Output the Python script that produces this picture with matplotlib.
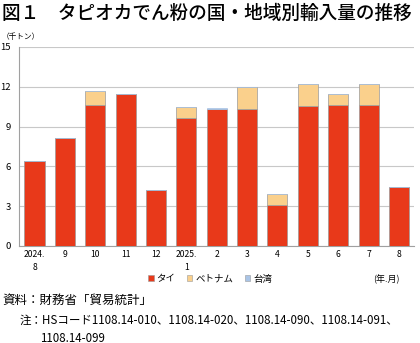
import matplotlib
matplotlib.use("Agg")
import matplotlib.pyplot as plt
from matplotlib.patches import Patch
import numpy as np

plt.rcParams['font.family'] = ['Noto Sans CJK JP', 'DejaVu Sans']

months = ["2024.\n8", "9", "10", "11", "12", "2025.\n1", "2", "3", "4", "5", "6", "7", "8"]
thai = [6.38, 8.12, 10.61, 11.42, 4.18, 9.63, 10.36, 10.31, 3.05, 10.56, 10.61, 10.59, 4.41]
vietnam = [0.0, 0.0, 1.06, 0.0, 0.0, 0.81, 0.0, 1.66, 0.83, 1.62, 0.84, 1.64, 0.0]
taiwan = [0.03, 0.03, 0.0, 0.03, 0.03, 0.0, 0.03, 0.0, 0.0, 0.0, 0.0, 0.0, 0.03]
yticks = [0, 3, 6, 9, 12, 15]

c_thai = "#E8391A"
c_viet = "#FAD08C"
c_tw = "#A9C4E6"
edge = "#9a9a9a"

fig = plt.figure(figsize=(4.2, 3.43), dpi=100)
ax = fig.add_axes([0.046, 0.283, 0.94, 0.58])

x = np.arange(len(months))
w = 0.66
ax.bar(x, thai, w, color=c_thai, edgecolor=edge, linewidth=0.5, zorder=3)
ax.bar(x, vietnam, w, bottom=thai, color=c_viet, edgecolor=edge, linewidth=0.5, zorder=3)
bt = np.array(thai) + np.array(vietnam)
ax.bar(x, taiwan, w, bottom=bt, color=c_tw, edgecolor=c_tw, linewidth=0.5, zorder=3)

ax.set_xlim(-0.5, len(months) - 0.5)
ax.set_ylim(0, 15)
ax.set_yticks(yticks)
ax.set_yticklabels([str(v) for v in yticks], fontsize=6.8)
ax.set_xticks(x)
ax.set_xticklabels(months, fontsize=6.2, linespacing=1.6)
ax.yaxis.grid(True, color="#c8c8c8", linewidth=0.8, zorder=0)
ax.tick_params(axis='both', length=0, pad=3)
ax.tick_params(axis='y', pad=6)
for s in ["top", "right"]:
    ax.spines[s].set_visible(False)
for s in ["left", "bottom"]:
    ax.spines[s].set_color("#a0a0a0")
    ax.spines[s].set_linewidth(0.8)

handles = [Patch(facecolor=c_thai, edgecolor=edge, linewidth=0.4),
           Patch(facecolor=c_viet, edgecolor=edge, linewidth=0.4),
           Patch(facecolor=c_tw, edgecolor=edge, linewidth=0.4)]
fig.legend(handles, ["タイ", "ベトナム", "台湾"], loc="center", bbox_to_anchor=(0.5, 1 - 279 / 343),
           ncol=3, frameon=False, fontsize=6.8, handlelength=0.6, handleheight=0.6,
           handletextpad=0.3, columnspacing=1.2)

fig.text(1 - 20 / 420, 1 - 279 / 343, "(年.月)", fontsize=6.5, ha="right", va="center")
fig.text(2 / 420, 1 - 37 / 343, "（千トン）", fontsize=5.5, ha="left", va="center")

fig.text(2 / 420, 1 - 13 / 343, "図１　タピオカでん粉の国・地域別輸入量の推移", fontsize=13.4,
         ha="left", va="center", fontweight="medium")

fig.text(2 / 420, 1 - 300 / 343, "資料：財務省「貿易統計」", fontsize=9.0, ha="left", va="center")
fig.text(20 / 420, 1 - 320 / 343, "注：HSコード1108.14-010、1108.14-020、1108.14-090、1108.14-091、",
         fontsize=8.3, ha="left", va="center")
fig.text(40 / 420, 1 - 338 / 343, "1108.14-099", fontsize=8.3, ha="left", va="center")

fig.savefig("out.png", dpi=100)
